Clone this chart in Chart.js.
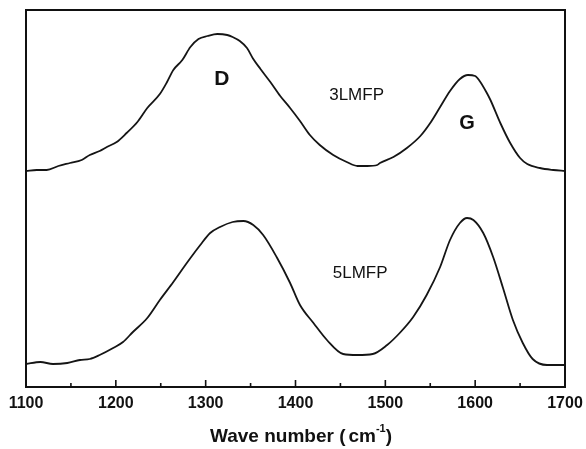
<!DOCTYPE html>
<html>
<head>
<meta charset="utf-8">
<script src="https://cdn.jsdelivr.net/npm/chart.js@4.4.1/dist/chart.umd.min.js"></script>
<style>
  html, body { margin: 0; padding: 0; background: #fff; }
  #wrap { width: 586px; height: 449px; position: relative; }
</style>
</head>
<body>
<div id="wrap"><canvas id="ramanChart"></canvas></div>
<script>
// 3LMFP spectrum (upper trace), intensity in arbitrary units
const upperX = [1100, 1112, 1123, 1136, 1149, 1162, 1171, 1182, 1190, 1201, 1212, 1224, 1235, 1249, 1257, 1264, 1274, 1283, 1292, 1302, 1313, 1324, 1330, 1338, 1346, 1353, 1361, 1372, 1383, 1394, 1405, 1416, 1427, 1442, 1457, 1469, 1480, 1491, 1494, 1509, 1524, 1539, 1550, 1561, 1572, 1583, 1592, 1600, 1605, 1613, 1617, 1628, 1639, 1650, 1658, 1672, 1687, 1700];
const upperY = [216, 217, 217, 221, 224, 227, 232, 236, 240, 245, 254, 265, 279, 293, 305, 317, 327, 340, 348, 351, 353, 352, 350, 346, 339, 328, 318, 305, 291, 279, 266, 252, 242, 232, 225, 221, 221, 222, 224, 230, 239, 251, 264, 280, 296, 308, 312, 311, 306, 294, 287, 264, 244, 229, 223, 219, 217, 216];

// 5LMFP spectrum (lower trace)
const lowerX = [1100, 1116, 1130, 1146, 1160, 1171, 1182, 1197, 1208, 1219, 1235, 1249, 1264, 1279, 1294, 1305, 1316, 1330, 1342, 1353, 1364, 1379, 1394, 1405, 1420, 1435, 1453, 1469, 1486, 1502, 1516, 1531, 1546, 1561, 1572, 1583, 1591, 1598, 1609, 1620, 1631, 1642, 1653, 1664, 1680, 1700];
const lowerY = [23, 25, 23, 24, 27, 28, 32, 39, 45, 55, 69, 87, 105, 124, 142, 154, 160, 165, 166, 162, 152, 130, 104, 82, 64, 47, 33, 32, 33, 42, 54, 70, 92, 120, 147, 164, 169, 167, 154, 130, 99, 67, 44, 28, 22, 22];

const xTicks = [1100, 1200, 1300, 1400, 1500, 1600, 1700];
const xMinorTicks = [1150, 1250, 1350, 1450, 1550, 1650];

const peakLabels = [
  { text: "D", x: 1318, y: 308, font: "bold 21px 'Liberation Sans', Arial, sans-serif" },
  { text: "3LMFP", x: 1468, y: 292, font: "17px 'Liberation Sans', Arial, sans-serif" },
  { text: "G", x: 1591, y: 264, font: "bold 20px 'Liberation Sans', Arial, sans-serif" },
  { text: "5LMFP", x: 1472, y: 114, font: "17px 'Liberation Sans', Arial, sans-serif" },
];

const toPoints = (xs, ys) => xs.map((x, i) => ({ x: x, y: ys[i] }));

// frame, inward ticks, peak labels and axis title
const framePlugin = {
  id: "frame",
  afterDraw(chart) {
    const { ctx, chartArea: a, scales } = chart;
    const xs = scales.x, ys = scales.y;
    ctx.save();
    ctx.strokeStyle = "#111";
    ctx.lineWidth = 2;
    ctx.strokeRect(a.left, a.top, a.right - a.left, a.bottom - a.top);

    ctx.lineWidth = 1.6;
    ctx.beginPath();
    xTicks.forEach(v => {
      const px = xs.getPixelForValue(v);
      ctx.moveTo(px, a.bottom);
      ctx.lineTo(px, a.bottom - 7);
    });
    xMinorTicks.forEach(v => {
      const px = xs.getPixelForValue(v);
      ctx.moveTo(px, a.bottom);
      ctx.lineTo(px, a.bottom - 4);
    });
    ctx.stroke();

    ctx.fillStyle = "#111";
    ctx.textAlign = "center";
    ctx.textBaseline = "middle";
    peakLabels.forEach(l => {
      ctx.font = l.font;
      ctx.fillText(l.text, xs.getPixelForValue(l.x), ys.getPixelForValue(l.y));
    });

    // x axis title with superscript
    const main = "Wave number (";
    const unit = "cm";
    const sup = "-1";
    const close = ")";
    const big = "bold 19px 'Liberation Sans', Arial, sans-serif";
    const small = "bold 11px 'Liberation Sans', Arial, sans-serif";
    ctx.font = big;
    const w1 = ctx.measureText(main).width;
    const w2 = ctx.measureText(unit).width;
    const w4 = ctx.measureText(close).width;
    ctx.font = small;
    const w3 = ctx.measureText(sup).width;
    const gap = 3;
    const total = w1 + gap + w2 + w3 + w4;
    let x0 = 301 - total / 2;
    const yT = 437;
    ctx.textAlign = "left";
    ctx.textBaseline = "middle";
    ctx.font = big;
    ctx.fillText(main, x0, yT);
    x0 += w1 + gap;
    ctx.fillText(unit, x0, yT);
    x0 += w2;
    ctx.font = small;
    ctx.fillText(sup, x0, yT - 8);
    x0 += w3;
    ctx.font = big;
    ctx.fillText(close, x0, yT);
    ctx.restore();
  }
};

new Chart(document.getElementById("ramanChart"), {
  type: "line",
  data: {
    datasets: [
      {
        label: "3LMFP",
        data: toPoints(upperX, upperY),
        borderColor: "#151515",
        borderWidth: 1.8,
        pointRadius: 0,
        cubicInterpolationMode: "monotone",
      },
      {
        label: "5LMFP",
        data: toPoints(lowerX, lowerY),
        borderColor: "#151515",
        borderWidth: 1.8,
        pointRadius: 0,
        cubicInterpolationMode: "monotone",
      },
    ],
  },
  options: {
    responsive: true,
    maintainAspectRatio: false,
    animation: false,
    layout: { padding: { top: 10, right: 21, bottom: 0, left: 26 } },
    plugins: {
      legend: { display: false },
      tooltip: { enabled: false },
    },
    scales: {
      x: {
        type: "linear",
        min: 1100,
        max: 1700,
        afterBuildTicks: (scale) => { scale.ticks = xTicks.map(v => ({ value: v })); },
        afterFit: (scale) => {
          scale.height = 62;
          scale.paddingLeft = 0;
          scale.paddingRight = 0;
        },
        grid: { display: false, drawTicks: false },
        border: { display: false },
        ticks: {
          padding: 7,
          color: "#111",
          maxRotation: 0,
          autoSkip: false,
          callback: (v) => String(v),
          font: { family: "'Liberation Sans', Arial, sans-serif", size: 16, weight: "bold" },
        },
      },
      y: {
        display: false,
        min: 0,
        max: 377,
      },
    },
  },
  plugins: [framePlugin],
});
</script>
</body>
</html>
